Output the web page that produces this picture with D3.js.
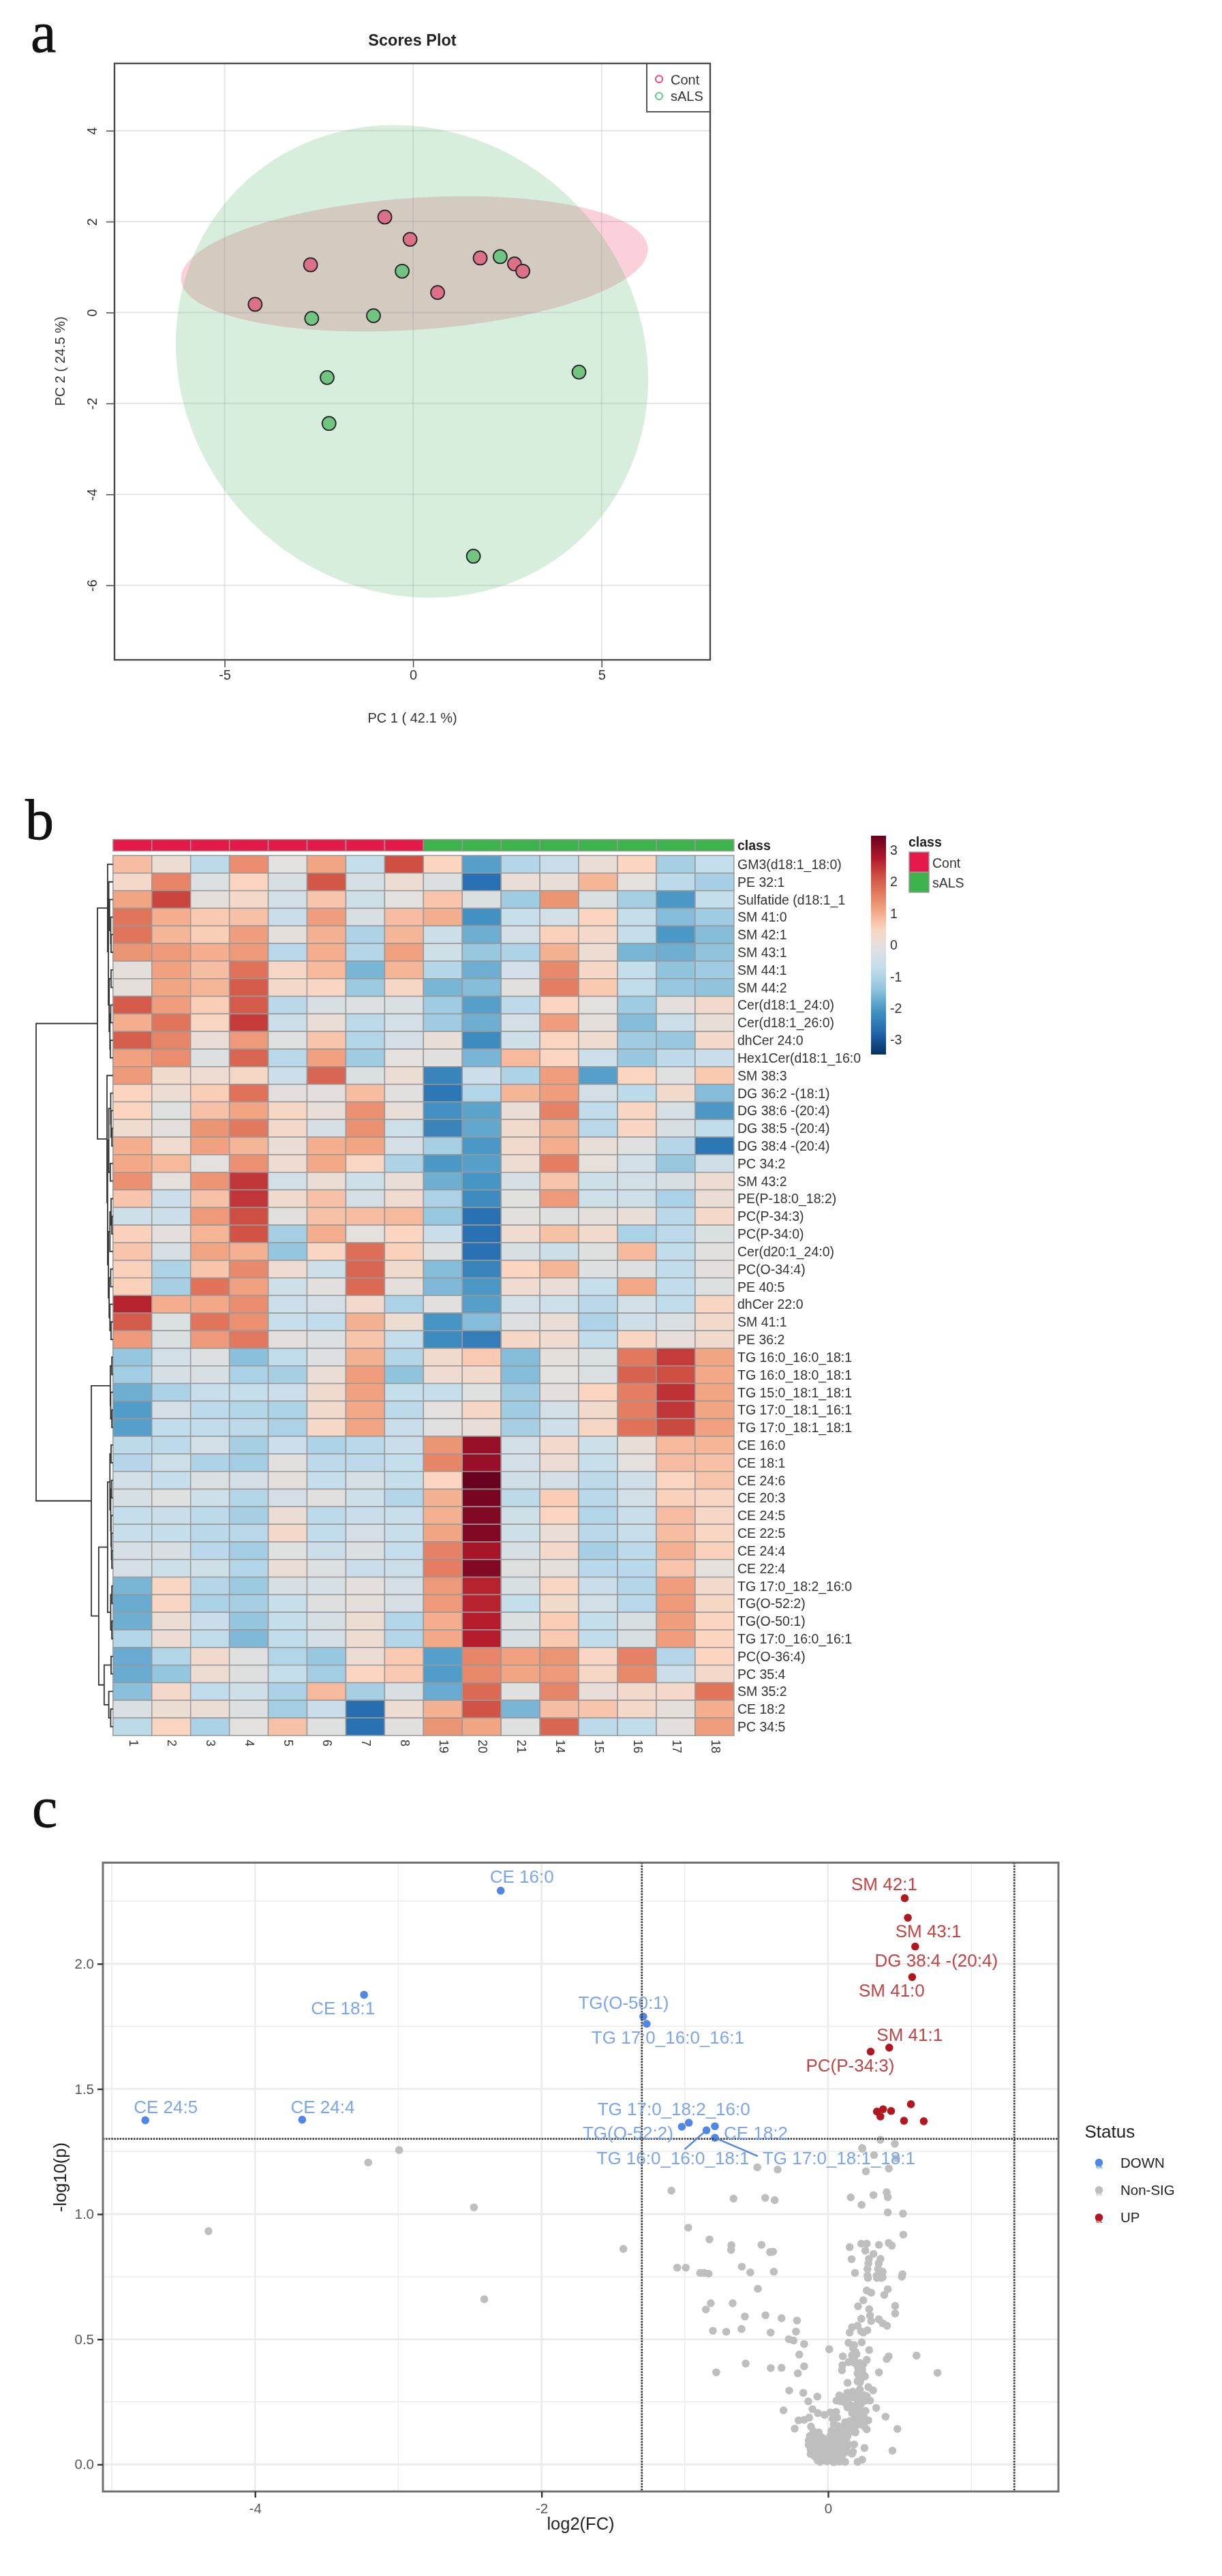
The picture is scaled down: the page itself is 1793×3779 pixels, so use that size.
<!DOCTYPE html>
<html>
<head>
<meta charset="utf-8">
<title>Scores plot, heatmap and volcano plot</title>
<script src="https://cdnjs.cloudflare.com/ajax/libs/d3/7.8.5/d3.min.js"></script>
<style>
  body { margin: 0; background: #fff; }
  svg { filter: blur(0.7px); }
  text { font-family: "Liberation Sans", Arial, sans-serif; }
  .letter { font-family: "Liberation Serif", serif; font-size: 84px; fill: #111; stroke: #111; stroke-width: .8; }
</style>
</head>
<body>
<svg id="canvas" width="1793" height="3779"></svg>
<script>
// ---- panel a, PCA scores
const pcaTicksX = [-5, 0, 5]
const pcaTicksY = [-6, -4, -2, 0, 2, 4]
const contPC1 = [-0.75, -0.08, 1.78, 2.69, 2.91, 0.65, -2.72, -4.19]
const contPC2 = [2.10, 1.61, 1.20, 1.07, 0.91, 0.44, 1.05, 0.18]
const alsPC1 = [2.31, -0.29, -1.05, -2.69, -2.28, -2.23, 4.40, 1.60]
const alsPC2 = [1.23, 0.91, -0.07, -0.13, -1.43, -2.44, -1.31, -5.36]

// ---- panel b, heatmap
const colNames = ["1","2","3","4","5","6","7","8","19","20","21","14","15","16","17","18"]
const colClass = ["Cont","Cont","Cont","Cont","Cont","Cont","Cont","Cont","sALS","sALS","sALS","sALS","sALS","sALS","sALS","sALS"]
const rowNames = ["GM3(d18:1_18:0)","PE 32:1","Sulfatide (d18:1_1","SM 41:0","SM 42:1","SM 43:1","SM 44:1","SM 44:2",
  "Cer(d18:1_24:0)","Cer(d18:1_26:0)","dhCer 24:0","Hex1Cer(d18:1_16:0","SM 38:3","DG 36:2 -(18:1)","DG 38:6 -(20:4)",
  "DG 38:5 -(20:4)","DG 38:4 -(20:4)","PC 34:2","SM 43:2","PE(P-18:0_18:2)","PC(P-34:3)","PC(P-34:0)","Cer(d20:1_24:0)",
  "PC(O-34:4)","PE 40:5","dhCer 22:0","SM 41:1","PE 36:2","TG 16:0_16:0_18:1","TG 16:0_18:0_18:1","TG 15:0_18:1_18:1",
  "TG 17:0_18:1_16:1","TG 17:0_18:1_18:1","CE 16:0","CE 18:1","CE 24:6","CE 20:3","CE 24:5","CE 22:5","CE 24:4","CE 22:4",
  "TG 17:0_18:2_16:0","TG(O-52:2)","TG(O-50:1)","TG 17:0_16:0_16:1","PC(O-36:4)","PC 35:4","SM 35:2","CE 18:2","PC 34:5"]
const heatValues = [
  [.8,.2,-.8,1.4,0,1.1,-.7,2.2,.5,-1.9,-.9,-.6,.15,.5,-1.1,-.7],
  [.35,1.5,-.15,.5,-.25,2.1,-.3,.2,-.2,-2.6,.15,.1,.9,0,-.8,-1.1],
  [1.1,2.3,.05,.35,-.4,.7,-.45,0,.7,-.2,-1.2,1.3,-.2,-1.1,-2,-.7],
  [1.7,1,.65,.75,-.6,1.2,-.25,.8,1,-2.1,-.65,-.4,.5,-.7,-1.5,-1.2],
  [1.7,.9,.6,1.2,.05,.95,-1,.9,-.55,-1.7,-.35,.55,.35,-.7,-2,-1.5],
  [1.3,1.25,1,1.25,-.85,1,-.9,1.15,-.45,-1.3,-1,.95,.2,-1.6,-1.7,-1.4],
  [.05,1.15,.8,1.75,.4,.85,-1.6,.9,-.9,-1.7,-.4,1.45,.4,-.7,-1.4,-1.2],
  [.05,1.1,.9,2.05,.35,.45,-1.25,.4,-1.6,-1.5,-.05,1.6,.65,-.75,-1.3,-1.4],
  [2.05,1.2,.6,2.05,-.85,-.25,-.15,-.2,-1.2,-1.9,-.8,.5,0,-1.2,.03,.3],
  [1,1.7,.45,2.4,-.55,.15,-.8,-.4,-1.2,-1.7,-.35,1.2,.05,-1.5,-.55,.1],
  [2,1.5,.15,1.25,-.1,.7,-.95,-.35,.1,-2.2,-.45,.5,.25,-1.2,-1.3,.35],
  [1.15,1.4,-.15,1.9,-.85,1.15,-1.2,0,-.02,-1.6,.85,.5,-.5,-1.3,-.8,-.6],
  [1.25,.3,.22,.4,-.55,1.9,-.2,.18,-2.3,-.55,-1,1.2,-1.9,.5,-.1,.65],
  [.5,.18,.6,1.75,.03,.03,.8,-.02,-2.5,-.95,.9,1.2,-.35,-.8,.3,-1.5],
  [.5,-.1,.75,1.1,.4,.1,1.35,.12,-2.1,-1.85,.15,1.55,-.75,.45,-.3,-2],
  [.25,.03,1.3,1.65,.35,-.3,1.35,-.5,-2.3,-1.8,.3,.95,-.85,.45,-.25,-.75],
  [1,.25,1.15,.9,.15,1,1.1,-.35,-1.1,-2,.3,1,.1,-.1,-.9,-2.5],
  [1.05,.85,0,1.35,.25,1.05,.45,-1,-2,-1.9,.2,1.6,.06,-.4,-1.3,-.45],
  [1.35,0,1.3,2.45,-.4,.17,-.5,.12,-1.7,-2.05,-.3,.7,-.45,-.4,-.25,.2],
  [.7,-.55,.75,2.45,.27,.75,-.35,.25,-1.05,-2.2,-.07,1.25,-.5,-.5,-1.05,.15],
  [-.45,-.55,1.25,2.2,-.05,.75,.8,.85,-1.3,-2.6,-.02,-.12,.05,.1,-.85,.35],
  [.55,.03,.9,2.15,-1.1,1,.02,.5,-.6,-2.6,.25,.75,.3,-1.05,-.8,-.2],
  [.7,-.3,1.1,.95,-1.35,.45,1.8,.55,-.15,-2.6,-.25,-.55,-.12,.85,-.75,-.05],
  [.55,-1,.7,1.45,.25,-.5,1.9,.28,-1.5,-2.3,.5,.9,-.15,-.15,-.75,.03],
  [.55,-1.1,1.75,1.15,-.45,-.02,1.85,.04,-1.55,-2,.25,.15,-.65,1.05,-.75,-.12],
  [2.65,1,1.05,1.4,-.55,-.35,.3,-1.05,-.02,-1.9,-.4,-.5,-.85,-.4,-.75,.45],
  [2.05,-.15,1.7,1.35,-.65,-.75,.95,.2,-2.05,-1.5,-.15,.15,-1,-.45,-.2,.3],
  [1.25,-.2,1.25,1.65,.03,-.15,.7,-.7,-2.2,-2.4,.4,.25,-.75,.45,.08,.28],
  [-1.35,-.4,-.15,-1.45,-.75,-.15,.95,-.95,.3,.65,-1.5,.04,-.2,1.65,2.4,1.1],
  [-1.15,-.3,-.25,-1.05,-1.1,.15,1.2,-1.4,.22,.3,-1.5,.02,-.2,1.95,2.2,1.05],
  [-1.7,-1.05,-.65,-.7,-.55,.28,1.15,-.7,-.7,-.1,-1.2,.03,.5,1.6,2.5,1.1],
  [-1.95,-.35,-.8,-.95,-1,.3,1.05,-.8,0,.4,-1.2,-.4,.3,1.6,2.45,1.1],
  [-1.9,-.75,-.75,-.8,-1.05,.38,1.1,-.6,-.08,.12,-1.1,-.5,.4,1.75,2.25,1.15],
  [-.8,-.8,-.4,-1.1,-.55,-1,-.85,-.6,1.3,3,-.4,.3,-.5,.1,.85,.9],
  [-.9,-.45,-1,-1.15,-.02,-.8,-.8,-.7,1.5,3,-.4,.18,-.65,.02,.8,.75],
  [-.4,-.7,-.2,-.35,.05,-.7,-.3,-.7,.5,3.45,-.45,-.35,-.8,-.45,.5,.7],
  [-.3,-.1,-.5,-.95,-.35,-.02,-.5,-.95,.95,3.3,-.8,.6,-.85,-.4,.55,.45],
  [-.7,-.6,-.8,-1.1,.17,-.8,-.6,-.6,.95,3.2,-.45,.5,-.95,-.6,.8,.4],
  [-.65,-.7,-.85,-.85,.35,-.75,-.35,-.65,1.1,3.2,-.5,.13,-.85,-.65,.8,.45],
  [-.3,-.25,-.85,-1.15,-.1,-.55,-.2,-.7,1.55,2.85,-.3,.33,-1.1,-.8,.95,.55],
  [-.35,-.5,-.45,-.95,.13,-.15,-.6,-.55,1.6,3.2,-.12,.05,-.85,-.85,.7,.02],
  [-1.6,.45,-.9,-1.25,-.3,-.3,.03,-.35,1.25,2.65,-.25,.45,-.6,-.9,1.2,.3],
  [-1.75,.45,-1.05,-1.1,-.65,-.12,.05,-.3,1.25,2.65,-.7,.3,-.4,-.85,1.25,.4],
  [-1.7,.18,-.6,-1.35,-.7,-.3,.2,-.95,1,2.7,-.2,.6,-.7,-.25,1.2,.5],
  [-.95,.18,-.75,-1.55,-.75,-.35,.2,-.95,1.05,2.7,-.25,.65,-.75,-.25,1.2,.5],
  [-1.75,-.95,.3,-.1,-.95,-1.3,.18,.65,-1.9,1.5,1.15,1.3,.45,1.55,-.9,.5],
  [-1.75,-1.35,.2,-.12,-.7,-1.15,.5,.65,-1.95,1.45,1.1,1.25,.4,1.45,-.55,.35],
  [-1.45,.35,-.75,-.45,-1.05,.85,-1.1,-.25,-1.75,1.85,-.1,1.5,.12,.3,.35,1.7],
  [-.2,.2,.17,-.15,-1.15,-.6,-2.65,.2,.95,2.15,-1.6,.8,.7,.35,.05,1],
  [-.8,.5,-1.05,0,.75,-.1,-2.6,-.05,1.3,1.1,-.1,1.9,-.8,-.75,.03,1.2]
]
const colorbarTicks = [-3, -2, -1, 0, 1, 2, 3]
const heatMax = 3.46
const heatStops = [-3.46, -2.77, -2.07, -1.38, -0.69, 0, 0.5, 1.1, 1.6, 2.2, 2.75, 3.46]
const heatPalette = ["#053061","#2166AC","#4393C3","#92C5DE","#C5DEEC","#E3E0DE","#FBD5C0","#F2A583","#E47D61","#CE4F42","#B2182B","#67001F"]
const L = 0
const rowTree = [100,
  [20.2,
    [7, L, [6, [5.5, L, [4.5, L, [3, L, [2.5, L, L]]]],
      [5, [2.5, L, L], [4, [3, L, L], [3.5, L, L]]]]],
    [7.8, L, [7,
      [5.5, [3, L, [2.5, L, [1.5, L, L]]], [3.5, L, L]],
      [6, [4, [2.5, L, [1.5, L, L]], L], [5, [3, L, L], [4, L, [2.5, L, L]]]]]]],
  [28.2,
    [3.5, [1.5, L, L], [3, L, [1.5, L, L]]],
    [18.6,
      [7, [4, [2.5, L, L], [3, [2, L, L], [2.5, L, [2, L, [1.5, L, L]]]]],
        [3, [1.5, L, L], [1.5, L, L]]],
      [11.5, [2.5, L, L], [5.5, L, [3, L, L]]]]]]

// ---- panel c, volcano
const volcanoTicksX = [-4, -2, 0]
const volcanoMinorX = [-5, -3, -1, 1]
const volcanoTicksY = [0, 0.5, 1, 1.5, 2]
const volcanoMinorY = [0.25, 0.75, 1.25, 1.75, 2.25]
const fcCut = 1.3
const pCut = 1.301
const downNames = ["CE 16:0","CE 18:1","CE 24:5","CE 24:4","TG(O-50:1)","TG 17:0_16:0_16:1","TG 17:0_18:2_16:0","TG(O-52:2)","CE 18:2","TG 16:0_16:0_18:1","TG 17:0_18:1_18:1"]
const downFC = [-2.285, -3.239, -4.766, -3.671, -1.29, -1.266, -0.972, -1.021, -0.79, -0.849, -0.79]
const downP = [2.292, 1.876, 1.375, 1.377, 1.789, 1.76, 1.365, 1.349, 1.351, 1.335, 1.305]
const upNames = ["SM 42:1","SM 43:1","DG 38:4 -(20:4)","SM 41:0","SM 41:1","PC(P-34:3)","","","","","","",""]
const upFC = [0.535, 0.557, 0.608, 0.587, 0.427, 0.297, 0.578, 0.668, 0.53, 0.44, 0.384, 0.341, 0.365]
const upP = [2.262, 2.184, 2.069, 1.947, 1.665, 1.649, 1.439, 1.371, 1.373, 1.412, 1.419, 1.41, 1.39]
const nonSig = [
  [-2.994,1.256],[-3.21,1.206],[-2.472,1.027],[-4.325,.932],[-2.4,.66],[-1.429,.861],
  [.365,1.297],[.466,1.281],[.238,1.264],[.239,1.261],[.321,1.236],[.476,1.223],[.424,1.182],[.264,1.171],
  [-.494,1.187],[-.352,1.178],[-1.094,1.094],[-.66,1.062],[-.439,1.065],[-.373,1.056],[.158,1.067],[.317,1.076],
  [.409,1.087],[.417,1.068],[.234,1.037],[.417,1.007],[.523,1.002],[.525,.918],[-.976,.946],[-.828,.899],
  [-.675,.876],[-.677,.857],[-.465,.877],[-.405,.848],[-.384,.85],[.151,.868],[.232,.882],[.27,.882],[.26,.854],
  [.355,.877],[.423,.885],[.445,.874],[.164,.82],[.317,.841],[.285,.821],[.366,.821],[.281,.803],[.353,.803],
  [.275,.781],[.349,.781],[.381,.77],[.275,.754],[.339,.754],[.381,.748],[.188,.765],[.519,.76],[-1.053,.786],
  [-.993,.786],[-.893,.765],[-.865,.765],[-.834,.762],[-.602,.79],[-.543,.767],[-.379,.77],[-.49,.702],[-.819,.644],
  [-.853,.619],[-.666,.644],[-.581,.591],[-.437,.596],[-.804,.534],[-.711,.53],[-.604,.541],[-.575,.403],[-.781,.368],
  [.617,.435],[.764,.366],
  [-.325,.584],[-.217,.575],[-.401,.527],[-.224,.531],[-.274,.5],[-.241,.495],[-.167,.481],[-.201,.439],[.008,.46],
  [-.167,.392],[-.211,.364],[-.325,.386],[-.4,.385],[-.271,.295],[-.173,.286],[-.075,.271],[-.138,.252],[-.311,.216],
  [-.109,.221],[-.071,.205],[-.206,.176],[-.167,.178],[-.132,.187],[-.233,.143],
  [.278,.745],[.341,.745],[.373,.745],[.515,.75],[.27,.695],[.301,.686],[.417,.7],[.392,.677],[.246,.656],[.209,.632],
  [.468,.633],[.468,.603],[.287,.62],[.232,.582],[.293,.595],[.301,.573],[.354,.58],[.381,.564],[.412,.554],[.167,.548],
  [.206,.554],[.151,.527],[.23,.532],[.274,.536],[.246,.527],[.143,.486],[.235,.488],[.182,.477],[.19,.45],[.287,.457],
  [.103,.432],[.182,.423],[.423,.432],[.409,.421],[.27,.418],[.1,.396],[.143,.409],[.182,.407],[.222,.405],[.246,.4],
  [.097,.376],[.214,.378],[.23,.382],[.355,.368],[.258,.352],[.219,.346],[.222,.328],[.136,.326],[.281,.309],[.314,.296],
  [.222,.3],[.174,.291],[.135,.287],[.079,.276],[.059,.255],[.095,.26],[.127,.264],[.159,.269],[.198,.278],[.246,.278],
  [.27,.273],[.293,.255],[.254,.255],[.143,.246],[.174,.232],[.206,.246],[.23,.241],[.336,.226],[.401,.191],[.182,.21],
  [.23,.214],[.19,.187],[.246,.196],[.281,.176],[.23,.173],[.167,.169],[.214,.16],[.27,.14],[.484,.142],[.19,.128],
  [.449,.055],[.254,.066],[.182,.08],[.174,.051],[.238,.019],[.206,.01],
  [.056,.21],[.016,.208],[-.024,.198],[.063,.187],[.032,.182],[.04,.16],[.119,.16],[.103,.142],
  [.103,.269],[.143,.269],[.182,.269],[.222,.269],[.262,.255],[.087,.252],[.119,.246],[.159,.228],[.198,.219],[.262,.214],
  [.167,.205],[.206,.196],[.254,.182],[.135,.228],[.119,.169],[.151,.173],[.19,.164],[.238,.16],[.254,.151],[.151,.151],[.182,.146],
  [.206,.391],[.238,.378],[.206,.364],[.246,.359],[.214,.355],[.23,.341],[.206,.332],[.174,.464],[.198,.441],[.167,.436],
  [-.119,.151],[.071,.153],[.119,.149],
  [-.103,.132],[-.066,.128],[.024,.134],[.063,.13],[.103,.133],[.151,.129],[.19,.131],
  [-.127,.114],[-.095,.116],[-.048,.11],[.016,.115],[.056,.112],[.095,.116],[.135,.113],
  [-.135,.096],[-.103,.094],[-.063,.098],[-.024,.093],[.016,.097],[.056,.095],[.095,.098],[.127,.094],
  [-.135,.078],[-.095,.08],[-.056,.076],[-.016,.079],[.024,.077],[.063,.08],[.103,.076],[.143,.079],
  [-.122,.06],[-.087,.058],[-.048,.062],[-.008,.059],[.032,.061],[.071,.058],[.111,.062],
  [-.122,.042],[-.079,.044],[-.04,.04],[0,.043],[.04,.041],[.079,.044],[.103,.04],[.167,.043],
  [-.071,.024],[-.032,.026],[.008,.023],[.048,.025],[.087,.022],
  [-.056,.01],[-.008,.012],[.04,.009],[.079,.011],[.119,.01],
  [-.085,.123],[.036,.123],[.08,.123],[.12,.123],
  [-.115,.105],[-.075,.105],[-.035,.105],[.036,.105],[.076,.105],[.115,.105],
  [-.118,.087],[-.083,.087],[-.044,.087],[-.004,.087],[.036,.087],[.076,.087],[.115,.087],
  [-.115,.069],[-.075,.069],[-.035,.069],[.005,.069],[.045,.069],[.085,.069],[.125,.069],
  [-.105,.051],[-.065,.051],[-.025,.051],[.015,.051],[.055,.051],[.095,.051],[.135,.051],
  [-.095,.033],[-.055,.033],[-.015,.033],[.025,.033],[.065,.033],
  [-.075,.017],[-.03,.017],[.02,.017],[.06,.017],[.1,.017]
]
// where each name sits relative to its point (px), and which ones need a leader line
const labelOffsets = {
  "CE 16:0": [31,-12], "CE 18:1": [-31,29], "CE 24:5": [30,-10], "CE 24:4": [30,-10],
  "TG(O-50:1)": [-29,-11], "TG 17:0_16:0_16:1": [31,29], "TG 17:0_18:2_16:0": [-22,-11],
  "TG(O-52:2)": [-79,18], "CE 18:2": [60,19], "TG 16:0_16:0_18:1": [-49,50], "TG 17:0_18:1_18:1": [182,39],
  "SM 42:1": [-30,-12], "SM 43:1": [30,29], "DG 38:4 -(20:4)": [31,29], "SM 41:0": [-30,29],
  "SM 41:1": [30,-10], "PC(P-34:3)": [-30,29]
}
const leaderEnds = { "TG 16:0_16:0_18:1": [-32,28], "TG 17:0_18:1_18:1": [63,27] }

const classColor = { Cont: "#E6194B", sALS: "#3CB44B" }
const svg = d3.select("#canvas")

const letter = (t, x, y) => svg.append("text").attr("class", "letter").attr("x", x).attr("y", y).text(t)
letter("a", 45, 76)
letter("b", 37, 1231)
letter("c", 47, 2680)

// ---------------- a ----------------
const drawScores = () => {
  const box = { left: 168, right: 1042, top: 93, bottom: 968 }
  const x = d3.scaleLinear([-7.92, 7.88], [box.left, box.right])
  const y = d3.scaleLinear([5.48, -7.64], [box.top, box.bottom])
  const g = svg.append("g")

  // 95% ellipse from the sample covariance
  const ellipse = (px, py) => {
    const mx = d3.mean(px), my = d3.mean(py)
    const sx = d3.deviation(px), sy = d3.deviation(py)
    const rho = d3.sum(px, (v, i) => (v - mx) * (py[i] - my)) / (px.length - 1) / (sx * sy)
    const t = Math.sqrt(5.991)
    const line = d3.line().x(a => x(mx + t * sx * Math.cos(a)))
      .y(a => y(my + t * sy * (rho * Math.cos(a) + Math.sqrt(1 - rho * rho) * Math.sin(a))))
    return line(d3.range(0, Math.PI * 2, 0.02)) + "Z"
  }
  g.append("path").attr("d", ellipse(contPC1, contPC2)).attr("fill", "rgba(230,25,75,.2)")
  g.append("path").attr("d", ellipse(alsPC1, alsPC2)).attr("fill", "rgba(55,170,80,.2)")

  g.selectAll(".gv").data(pcaTicksX).enter().append("line")
    .attr("x1", d => x(d)).attr("x2", d => x(d)).attr("y1", box.top).attr("y2", box.bottom)
    .attr("stroke", "#8c8c8c").attr("stroke-opacity", .22).attr("stroke-width", 2)
  g.selectAll(".gh").data(pcaTicksY).enter().append("line")
    .attr("y1", d => y(d)).attr("y2", d => y(d)).attr("x1", box.left).attr("x2", box.right)
    .attr("stroke", "#8c8c8c").attr("stroke-opacity", .22).attr("stroke-width", 2)

  const dots = (px, py, fill) => g.selectAll(null).data(px).enter().append("circle")
    .attr("cx", d => x(d)).attr("cy", (d, i) => y(py[i])).attr("r", 10)
    .attr("fill", fill).attr("stroke", "#222").attr("stroke-width", 1.8)
  dots(contPC1, contPC2, "#DC7086")
  dots(alsPC1, alsPC2, "#72C482")

  g.append("rect").attr("x", box.left).attr("y", box.top).attr("width", box.right - box.left).attr("height", box.bottom - box.top)
    .attr("fill", "none").attr("stroke", "#4a4a4a").attr("stroke-width", 2.4)

  const axB = g.append("g").attr("transform", `translate(0,${box.bottom})`)
    .call(d3.axisBottom(x).tickValues(pcaTicksX).tickSize(11).tickFormat(d => String(d)))
  axB.select(".domain").remove()
  axB.selectAll("text").attr("font-size", 20).attr("y", 29).attr("dy", 0).attr("fill", "#333")
    .style("font-family", "'Liberation Sans'")
  axB.selectAll("line").attr("stroke", "#555").attr("stroke-width", 1.6)

  const axL = g.append("g").attr("transform", `translate(${box.left},0)`)
    .call(d3.axisLeft(y).tickValues(pcaTicksY).tickSize(12).tickFormat(d => String(d)))
  axL.select(".domain").remove()
  axL.selectAll("line").attr("stroke", "#555").attr("stroke-width", 1.6)
  axL.selectAll("text").attr("font-size", 20).attr("x", 0).attr("dy", 0).attr("y", 0).attr("fill", "#333")
    .attr("text-anchor", "middle").attr("transform", "translate(-26,0) rotate(-90)")
    .style("font-family", "'Liberation Sans'")

  g.append("text").text("Scores Plot").attr("x", 605).attr("y", 67).attr("text-anchor", "middle")
    .attr("font-size", 23.5).attr("font-weight", "bold").attr("fill", "#222")
  g.append("text").text("PC 1 ( 42.1 %)").attr("x", 605).attr("y", 1060).attr("text-anchor", "middle")
    .attr("font-size", 20).attr("fill", "#333")
  g.append("text").text("PC 2 ( 24.5 %)").attr("text-anchor", "middle").attr("font-size", 20).attr("fill", "#333")
    .attr("transform", "translate(95,530) rotate(-90)")

  // legend
  g.append("path").attr("d", `M949,${box.top}V164H${box.right}`).attr("fill", "none").attr("stroke", "#555").attr("stroke-width", 2)
  const keys = [["Cont", "#E8476E", 116, 124], ["sALS", "#5FC87A", 141, 148]]
  keys.forEach(k => {
    g.append("circle").attr("cx", 967).attr("cy", k[2]).attr("r", 5).attr("fill", "none").attr("stroke", k[1]).attr("stroke-width", 2)
    g.append("text").text(k[0]).attr("x", 984).attr("y", k[3]).attr("font-size", 20).attr("fill", "#333")
  })
}

// ---------------- b ----------------
const drawHeatmap = () => {
  const x = d3.scaleBand(colNames, [165.8, 1076.9])
  const y = d3.scaleBand(rowNames, [1255, 2546])
  const color = d3.scaleLinear().domain(heatStops).range(heatPalette)
  const g = svg.append("g")

  g.selectAll(".cls").data(colNames).enter().append("rect")
    .attr("x", d => x(d)).attr("y", 1231.5).attr("width", x.bandwidth()).attr("height", 17)
    .attr("fill", (d, i) => classColor[colClass[i]]).attr("stroke", "#999").attr("stroke-width", 1.4)
  g.append("text").text("class").attr("x", 1082).attr("y", 1247).attr("font-size", 19.5).attr("font-weight", "bold").attr("fill", "#222")

  rowNames.forEach((row, r) => {
    g.selectAll(null).data(heatValues[r]).enter().append("rect")
      .attr("x", (d, c) => x(colNames[c])).attr("y", y(row))
      .attr("width", x.bandwidth()).attr("height", y.bandwidth())
      .attr("fill", d => color(d)).attr("stroke", "#999").attr("stroke-width", 1.5)
    g.append("text").text(row).attr("x", 1082).attr("y", y(row) + y.bandwidth() / 2 + 7)
      .attr("font-size", 19.5).attr("fill", "#333")
  })
  colNames.forEach(c => {
    g.append("text").text(c).attr("font-size", 18).attr("fill", "#333").attr("dominant-baseline", "middle")
      .attr("transform", `translate(${x(c) + x.bandwidth() / 2},2552) rotate(90)`)
  })

  // dendrogram
  const h = d3.scaleLinear([0, 100], [165.8, 53])
  const dendro = g.append("g").attr("fill", "none").attr("stroke", "#333").attr("stroke-width", 1.8)
  let leaf = 0
  const walk = node => {
    if (node === L) {
      const row = rowNames[leaf++]
      return { y: y(row) + y.bandwidth() / 2, x: h(0) }
    }
    const a = walk(node[1]), b = walk(node[2])
    const nx = h(node[0])
    dendro.append("path").attr("d", `M${a.x},${a.y}H${nx}V${b.y}H${b.x}`)
    return { y: (a.y + b.y) / 2, x: nx }
  }
  walk(rowTree)

  // colour bar
  const bar = d3.scaleLinear([heatMax, -heatMax], [1226, 1547])
  const defs = svg.append("defs").append("linearGradient").attr("id", "heatbar").attr("x1", 0).attr("x2", 0).attr("y1", 1).attr("y2", 0)
  heatPalette.forEach((c, i) => defs.append("stop").attr("offset", (heatStops[i] + heatMax) / (2 * heatMax)).attr("stop-color", c))
  g.append("rect").attr("x", 1278).attr("y", 1226).attr("width", 22).attr("height", 321).attr("fill", "url(#heatbar)")
  const axBar = g.append("g").attr("transform", "translate(1300,0)")
    .call(d3.axisRight(bar).tickValues(colorbarTicks).tickSize(0).tickFormat(d => String(d)))
  axBar.select(".domain").remove()
  axBar.selectAll("text").attr("x", 6).attr("font-size", 19.5).attr("fill", "#333").style("font-family", "'Liberation Sans'")

  // class legend
  g.append("text").text("class").attr("x", 1333).attr("y", 1242).attr("font-size", 19.5).attr("font-weight", "bold").attr("fill", "#222")
  Object.keys(classColor).forEach((k, i) => {
    g.append("rect").attr("x", 1334).attr("y", 1250 + i * 29.5).attr("width", 29).attr("height", 29.5)
      .attr("fill", classColor[k]).attr("stroke", "#999").attr("stroke-width", 1.5)
    g.append("text").text(k).attr("x", 1368).attr("y", 1273 + i * 29).attr("font-size", 19.5).attr("fill", "#333")
  })
}

// ---------------- c ----------------
const drawVolcano = () => {
  const box = { left: 151, right: 1553, top: 2732.5, bottom: 3655 }
  const x = d3.scaleLinear([-5.062, 1.608], [box.left, box.right])
  const y = d3.scaleLinear([2.404, -0.108], [box.top, box.bottom])
  const g = svg.append("g")

  const vGrid = (vals, w) => g.selectAll(null).data(vals).enter().append("line")
    .attr("x1", d => x(d)).attr("x2", d => x(d)).attr("y1", box.top).attr("y2", box.bottom)
    .attr("stroke", "#ebebeb").attr("stroke-width", w)
  const hGrid = (vals, w) => g.selectAll(null).data(vals).enter().append("line")
    .attr("y1", d => y(d)).attr("y2", d => y(d)).attr("x1", box.left).attr("x2", box.right)
    .attr("stroke", "#ebebeb").attr("stroke-width", w)
  vGrid(volcanoMinorX, 1.4); hGrid(volcanoMinorY, 1.4)
  vGrid(volcanoTicksX, 2.6); hGrid(volcanoTicksY, 2.6)

  // points
  const dots = (pts, fill) => g.selectAll(null).data(pts).enter().append("circle")
    .attr("cx", d => x(d[0])).attr("cy", d => y(d[1])).attr("r", 5.8).attr("fill", fill)
  dots(nonSig, "#BEBEBE")
  const downPts = downFC.map((v, i) => [v, downP[i]])
  const upPts = upFC.map((v, i) => [v, upP[i]])
  dots(downPts, "#4F86E8")
  dots(upPts, "#B2171F")

  // cut-offs
  const cut = sel => sel.attr("stroke", "#3a3a3a").attr("stroke-width", 2.8).attr("stroke-dasharray", "2.5,1.6")
  ;[-fcCut, fcCut].forEach(v => cut(g.append("line").attr("x1", x(v)).attr("x2", x(v)).attr("y1", box.top).attr("y2", box.bottom)))
  cut(g.append("line").attr("y1", y(pCut)).attr("y2", y(pCut)).attr("x1", box.left).attr("x2", box.right))

  // names
  const labels = (names, pts, fill, lineFill) => names.forEach((name, i) => {
    if (!name) return
    const [dx, dy] = labelOffsets[name]
    const px = x(pts[i][0]), py = y(pts[i][1])
    g.append("text").text(name).attr("x", px + dx).attr("y", py + dy).attr("text-anchor", "middle")
      .attr("font-size", 26).attr("fill", fill)
    if (leaderEnds[name]) {
      g.append("line").attr("x1", px).attr("y1", py)
        .attr("x2", px + leaderEnds[name][0]).attr("y2", py + leaderEnds[name][1])
        .attr("stroke", lineFill).attr("stroke-width", 2.4)
    }
  })
  labels(downNames, downPts, "#7AA5F0", "#4F86E8")
  labels(upNames, upPts, "#C24444", "#B2171F")

  g.append("rect").attr("x", box.left).attr("y", box.top).attr("width", box.right - box.left).attr("height", box.bottom - box.top)
    .attr("fill", "none").attr("stroke", "#707070").attr("stroke-width", 3)

  const axB = g.append("g").attr("transform", `translate(0,${box.bottom})`)
    .call(d3.axisBottom(x).tickValues(volcanoTicksX).tickSize(9).tickFormat(d => String(d)))
  axB.select(".domain").remove()
  axB.selectAll("line").attr("stroke", "#333").attr("stroke-width", 2.4)
  axB.selectAll("text").attr("font-size", 20.5).attr("y", 32).attr("dy", 0).attr("fill", "#555").style("font-family", "'Liberation Sans'")

  const axL = g.append("g").attr("transform", `translate(${box.left},0)`)
    .call(d3.axisLeft(y).tickValues(volcanoTicksY).tickSize(8).tickFormat(d3.format(".1f")))
  axL.select(".domain").remove()
  axL.selectAll("line").attr("stroke", "#333").attr("stroke-width", 2.4)
  axL.selectAll("text").attr("font-size", 20.5).attr("x", -13).attr("fill", "#555").style("font-family", "'Liberation Sans'")

  g.append("text").text("log2(FC)").attr("x", 852).attr("y", 3711).attr("text-anchor", "middle").attr("font-size", 25.5).attr("fill", "#222")
  g.append("text").text("-log10(p)").attr("text-anchor", "middle").attr("font-size", 25.5).attr("fill", "#222")
    .attr("transform", "translate(97,3194) rotate(-90)")

  // legend
  g.append("text").text("Status").attr("x", 1591.5).attr("y", 3136).attr("font-size", 26).attr("fill", "#222")
  const statusKeys = [["DOWN", "#4F86E8", 3172.6], ["Non-SIG", "#BEBEBE", 3212.8], ["UP", "#B2171F", 3253]]
  statusKeys.forEach(k => {
    g.append("circle").attr("cx", 1612.5).attr("cy", k[2]).attr("r", 5.8).attr("fill", k[1])
    g.append("text").text("a").attr("x", 1612.5).attr("y", k[2] + 8).attr("text-anchor", "middle")
      .attr("font-size", 18).attr("fill", k[1]).attr("fill-opacity", .75)
    g.append("text").text(k[0]).attr("x", 1644).attr("y", k[2] + 7).attr("font-size", 20.5).attr("fill", "#222")
  })
}

drawScores()
drawHeatmap()
drawVolcano()
</script>
</body>
</html>
